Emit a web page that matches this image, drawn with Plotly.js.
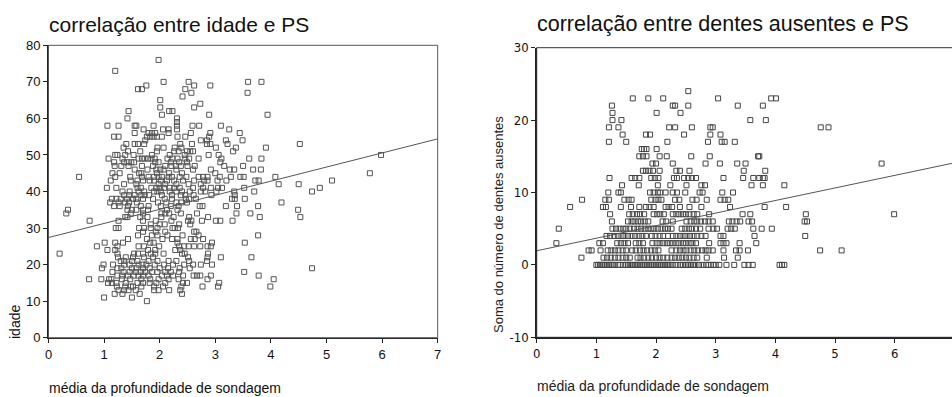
<!DOCTYPE html>
<html><head><meta charset="utf-8">
<script src="https://cdn.plot.ly/plotly-3.0.1.min.js"></script>
<style>html,body{margin:0;padding:0;overflow:hidden;background:#fff;width:952px;height:397px}#c{width:960px;height:397px}</style>
</head><body><div id="c"></div>
<script>
// Left chart: age (idade) rows -> probing depth values
const idadeRows = [
[76,[1.98]],[73,[1.20]],[70,[2.07,2.52,3.59,3.83]],[69,[1.76,2.62,2.91]],[68,[1.61,1.68,2.46]],
[67,[2.57,3.58]],[66,[2.41]],[65,[2.01]],[64,[2.73]],[63,[2.01,2.62]],[62,[1.44,2.17,2.23]],
[61,[2.04,2.89,3.94]],[60,[1.42,2.31]],[59,[2.31]],
[58,[1.06,1.26,1.55,1.58,1.89,2.31,2.59,2.71,3.10]],
[57,[1.71,2.06,2.16,2.31,3.25]],
[56,[1.55,1.80,1.86,1.92,2.16,2.56,2.91,3.44]],
[55,[1.18,1.26,1.77,1.83,1.89,1.95,2.04,2.32,2.46,2.89]],
[54,[1.74,2.74,2.85,3.19,3.49]],
[53,[1.40,1.55,1.61,1.72,2.37,2.58,2.85,2.91,3.22,4.52]],
[52,[1.35,1.96,2.07,2.27,2.39,3.01,3.37,3.91]],
[51,[1.43,1.65,1.95,2.26,2.34,2.49,2.55,2.60,3.32]],
[50,[1.20,1.24,1.38,1.53,1.86,2.18,2.45,2.88,3.06,5.98]],
[49,[1.08,1.33,1.62,1.68,1.73,1.79,1.85,1.91,2.14,2.23,2.32,2.46,2.53,2.70,3.11,3.61,3.83]],
[48,[1.18,1.36,1.42,1.49,1.54,1.92,1.98,2.20,2.35,2.49,3.09]],
[47,[1.19,1.31,1.44,1.68,1.88,2.10,2.21,2.29,2.38,2.50,2.63,3.16,3.50]],
[46,[1.55,1.78,1.94,2.01,2.07,2.30,2.60,2.92,3.26,3.34,3.68,3.82]],
[45,[1.15,1.28,1.63,1.67,1.95,2.17,2.40,3.00,5.78]],
[44,[0.55,1.20,1.47,1.68,1.80,1.90,1.98,2.04,2.16,2.22,2.36,2.48,2.70,2.78,2.86,3.08,3.28,3.45,3.51,4.08]],
[43,[1.12,1.48,1.60,1.70,1.82,1.90,2.02,2.13,2.26,2.42,2.62,2.80,2.86,3.04,3.20,3.72,3.78,5.10]],
[42,[1.36,1.58,1.98,2.10,2.30,2.52,2.74,4.14,4.50]],
[41,[1.05,1.22,1.60,1.66,1.85,1.94,2.00,2.08,2.18,2.26,2.36,2.60,2.78,2.92,3.05,3.12,3.52,4.88]],
[40,[1.33,1.46,1.62,1.72,1.90,1.96,2.02,2.18,2.30,2.40,2.54,2.74,2.82,3.02,3.34,3.70,4.74]],
[39,[1.36,1.45,1.55,1.67,1.73,1.81,2.04,2.22,2.38,2.46,2.61,2.93,3.35]],
[38,[1.14,1.22,1.30,1.41,1.52,1.58,1.70,1.88,2.09,2.22,2.47,2.53,2.65,3.30,3.35,3.53]],
[37,[1.11,1.26,1.38,1.45,1.59,1.97,2.12,2.30,2.39,2.49,4.19]],
[36,[1.18,1.28,1.43,1.66,1.80,2.02,2.20,2.34,2.72,2.77,3.19,3.39,3.77]],
[35,[0.35,1.42,1.50,1.58,1.70,1.79,2.13,2.32,4.49]],
[34,[0.32,1.48,1.70,2.03,2.10,2.17,2.38,2.67,3.38,3.63]],
[33,[1.38,1.42,1.65,1.78,2.03,2.25,2.53,2.87,3.80,4.53]],
[32,[0.74,1.26,1.70,1.93,2.21,2.51,2.57,2.76,3.01,3.09,3.31]],
[31,[1.84,2.00,2.09,2.35,2.55]],
[30,[1.21,1.26,1.63,1.72,1.84,1.96,2.23,2.27,2.33]],
[29,[1.70,1.93,2.10,2.62,2.66]],
[28,[1.61,1.86,1.96,2.14,2.41,2.70,3.77]],
[27,[1.43,1.77,2.05,2.22,2.32,2.56,2.63,2.78]],
[26,[1.01,1.20,1.34,1.83,1.89,2.32,2.94,3.53]],
[25,[0.87,1.24,1.62,1.72,1.99,2.35,2.44,2.52,2.62,2.73,2.86,2.92]],
[24,[1.06,1.20,1.79,1.92,2.28,2.37]],
[23,[0.20,1.24,1.54,1.61,1.70,1.84,1.92,2.07,2.40,2.45,2.87]],
[22,[1.25,1.39,1.52,1.72,1.88,2.51,2.86,3.10,3.65]],
[21,[1.30,1.36,1.50,1.60,1.80,1.96,2.16,2.30,2.53,2.85]],
[20,[0.99,1.16,1.36,1.46,1.62,1.69,1.76,1.91,2.08,2.24,2.44,2.60,2.74,2.94]],
[19,[0.96,1.24,1.31,1.50,1.58,1.70,1.82,2.00,2.15,2.36,2.54,4.74]],
[18,[1.15,1.35,1.46,1.57,1.66,1.74,1.86,1.96,2.10,2.20,2.35,3.52]],
[17,[1.24,1.32,1.43,1.53,1.62,1.70,1.80,2.04,2.13,2.24,2.42,2.61,2.67,2.73,2.92,3.78]],
[16,[0.73,0.95,1.09,1.13,1.32,1.47,1.67,1.83,1.98,2.16,2.34,2.86,4.05]],
[15,[1.07,1.14,1.22,1.39,1.60,1.70,1.82,1.94,2.10,2.42,2.49,3.07]],
[14,[1.23,1.38,1.48,1.52,1.67,1.90,2.06,2.39,2.77,3.05,3.99]],
[13,[1.26,1.36,1.44,1.57,1.90,1.98,2.17,2.37]],
[12,[1.19,1.33,1.64,2.40]],
[11,[1.00,1.50]],
[10,[1.77]]
];
// Right chart: missing teeth rows -> probing depth values
const dentesRows = [
[24,[2.54]],
[23,[1.61,1.87,2.12,3.04,3.93,4.01]],
[22,[1.26,2.28,2.32,2.54,3.37,3.79]],
[21,[1.27,2.01,2.41]],
[20,[1.27,1.42,3.58,3.84]],
[19,[1.21,1.37,2.22,2.32,2.60,2.91,2.95,4.76,4.89]],
[18,[1.44,1.83,1.90,2.47,2.91,3.08]],
[17,[1.21,1.50,2.19,2.87,3.10,3.15,3.32]],
[16,[1.76,1.80,1.84,2.01]],
[15,[1.72,1.78,1.84,2.06,2.18,2.59,2.90,3.71,3.73]],
[14,[1.94,2.00,2.28,2.83,3.07,3.36,3.50,5.78]],
[13,[1.78,1.83,1.89,1.95,2.06,2.34,2.40,2.56,3.47,3.83]],
[12,[1.22,1.59,1.65,1.72,1.92,1.98,2.04,2.30,2.35,2.47,2.54,2.60,2.67,3.13,3.46,3.63,3.73,3.79,3.82]],
[11,[1.43,1.71,2.03,2.24,2.51,2.76,2.82,3.60,3.79,4.15]],
[10,[1.20,1.37,1.41,1.90,1.96,2.03,2.07,2.16,2.28,2.35,2.49,2.73,2.78,3.11,3.29]],
[9,[0.76,1.15,1.21,1.47,1.54,1.59,1.92,1.99,2.04,2.09,2.32,2.39,2.61,2.68,2.85,3.08,3.15,3.21]],
[8,[0.56,1.11,1.16,1.41,1.58,1.72,1.83,1.89,1.96,2.16,2.21,2.27,2.40,2.56,2.76,3.24,3.82,4.18]],
[7,[1.23,1.55,1.61,1.68,1.73,1.80,1.96,2.02,2.07,2.13,2.28,2.34,2.39,2.45,2.50,2.56,2.63,2.69,2.89,3.45,3.58,4.51,5.99]],
[6,[1.26,1.53,1.59,1.64,1.70,1.75,1.81,1.87,2.11,2.17,2.28,2.51,2.58,2.64,2.69,2.75,2.82,2.88,2.95,3.22,3.28,3.35,3.41,3.55,3.61,4.49,4.53]],
[5,[0.37,1.27,1.33,1.39,1.45,1.50,1.56,1.63,1.69,1.75,1.81,1.87,1.92,1.97,2.03,2.09,2.15,2.20,2.26,2.43,2.49,2.55,2.60,2.67,2.74,2.88,2.96,3.02,3.20,3.26,3.32,3.63,3.77,3.94]],
[4,[1.17,1.23,1.30,1.36,1.42,1.47,1.53,1.59,1.65,1.71,1.77,1.83,1.93,1.99,2.06,2.12,2.20,2.28,2.34,2.40,2.46,2.51,2.57,2.63,2.69,2.76,2.83,3.08,3.13,3.65,4.50]],
[3,[0.33,1.05,1.11,1.35,1.41,1.47,1.53,1.66,1.72,1.78,1.94,2.01,2.06,2.12,2.18,2.23,2.28,2.34,2.39,2.45,2.50,2.56,2.61,2.67,2.89,3.08,3.13,3.18,3.40,3.68]],
[2,[0.87,0.92,1.07,1.19,1.25,1.31,1.37,1.44,1.50,1.60,1.66,1.73,1.79,1.85,1.92,1.98,2.04,2.26,2.34,2.40,2.46,2.51,2.58,2.64,2.70,2.77,2.83,2.88,2.95,3.13,3.34,3.40,3.54,4.75,5.11]],
[1,[0.75,1.12,1.18,1.24,1.31,1.37,1.44,1.50,1.56,1.69,1.74,1.80,1.87,1.93,2.00,2.06,2.12,2.19,2.26,2.32,2.38,2.44,2.50,2.56,2.63,2.69,2.85,3.14,3.37]],
[0,[1.00,1.03,1.06,1.09,1.12,1.15,1.18,1.21,1.24,1.27,1.30,1.36,1.40,1.45,1.50,1.53,1.56,1.60,1.64,1.67,1.70,1.73,1.76,1.79,1.82,1.85,1.88,1.91,1.94,1.97,2.00,2.03,2.06,2.09,2.12,2.15,2.18,2.21,2.24,2.28,2.34,2.40,2.45,2.50,2.53,2.56,2.59,2.62,2.66,2.72,2.78,2.84,2.88,2.92,2.96,3.00,3.06,3.18,3.31,3.48,3.55,3.62,4.07,4.11,4.15]]
];
const fitLeftX = [0, 7], fitLeftY = [27.4, 54.4];
const fitRightX = [0, 7], fitRightY = [1.95, 14.1];
const xTicksLeft = [0,1,2,3,4,5,6,7];
const xTicksRight = [0,1,2,3,4,5,6];
const idadeTicks = [0,10,20,30,40,50,60,70,80];
const dentesTicks = [-10,0,10,20,30];
const dentesTickText = ['-10','0','10','20','30'];
const titleLeft = 'correlação entre idade e PS';
const titleRight = 'correlação entre dentes ausentes e PS';
const xTitle = 'média da profundidade de sondagem';
const yTitleLeft = 'idade';
const yTitleRight = 'Soma do número de dentes ausentes';

function flat(rows){const xs=[],ys=[];rows.forEach(r=>r[1].forEach(v=>{xs.push(v);ys.push(r[0]);}));return {xs,ys};}
const L = flat(idadeRows), R = flat(dentesRows);

const W = 960, H = 397;
const px = v => v / W, py = v => 1 - v / H;
const sans = 'Liberation Sans, Arial, sans-serif';
const narrow = 'Liberation Sans Narrow, DejaVu Sans Condensed, Liberation Sans, sans-serif';

const traces = [
 {x:L.xs,y:L.ys,type:'scatter',mode:'markers',xaxis:'x',yaxis:'y',
  marker:{symbol:'square-open',size:5,color:'#555',line:{width:1,color:'#555'}},hoverinfo:'skip'},
 {x:fitLeftX,y:fitLeftY,type:'scatter',mode:'lines',xaxis:'x',yaxis:'y',line:{color:'#555',width:1}},
 {x:R.xs,y:R.ys,type:'scatter',mode:'markers',xaxis:'x2',yaxis:'y2',
  marker:{symbol:'square-open',size:5,color:'#444',line:{width:1,color:'#444'}},hoverinfo:'skip'},
 {x:fitRightX,y:fitRightY,type:'scatter',mode:'lines',xaxis:'x2',yaxis:'y2',line:{color:'#555',width:1}}
];

const axBase = {showgrid:false,zeroline:false,showline:true,linecolor:'#222',linewidth:1.5,
  ticks:'outside',ticklen:4,tickwidth:1,tickcolor:'#222',tickmode:'array'};

const layout = {
 width:W,height:H,margin:{l:0,r:0,t:0,b:0},paper_bgcolor:'#fff',plot_bgcolor:'#fff',showlegend:false,
 xaxis:Object.assign({},axBase,{domain:[px(48.5),px(437.7)],range:[0,7],tickvals:xTicksLeft,anchor:'y',
   tickfont:{family:sans,size:13,color:'#111'}}),
 yaxis:Object.assign({},axBase,{domain:[py(337.7),py(45.3)],range:[0,80],tickvals:idadeTicks,anchor:'x',
   tickfont:{family:sans,size:13,color:'#111'}}),
 xaxis2:Object.assign({},axBase,{domain:[px(536.7),px(954.4)],range:[0,7],tickvals:xTicksRight,anchor:'y2',
   tickfont:{family:narrow,size:13,color:'#111'}}),
 yaxis2:Object.assign({},axBase,{domain:[py(337.3),py(47.7)],range:[-10,30],tickvals:dentesTicks,ticktext:dentesTickText,anchor:'x2',
   tickfont:{family:narrow,size:13,color:'#111'}}),
 shapes:[
  {type:'rect',xref:'x domain',yref:'y domain',x0:0,x1:1,y0:0,y1:1,line:{color:'#555',width:1}},
  {type:'rect',xref:'x2 domain',yref:'y2 domain',x0:0,x1:1,y0:0,y1:1,line:{color:'#333',width:1}}
 ],
 annotations:[
  {text:titleLeft,xref:'paper',yref:'paper',x:px(47),y:py(24),xanchor:'left',yanchor:'middle',showarrow:false,
   font:{family:sans,size:21,color:'#111'}},
  {text:titleRight,xref:'paper',yref:'paper',x:px(535),y:py(24),xanchor:'left',yanchor:'middle',showarrow:false,
   font:{family:sans,size:21.5,color:'#111'}},
  {text:xTitle,xref:'paper',yref:'paper',x:px(47),y:py(388),xanchor:'left',yanchor:'middle',showarrow:false,
   font:{family:sans,size:14,color:'#111'}},
  {text:xTitle,xref:'paper',yref:'paper',x:px(535),y:py(386),xanchor:'left',yanchor:'middle',showarrow:false,
   font:{family:sans,size:14,color:'#222'}},
  {text:yTitleLeft,xref:'paper',yref:'paper',x:px(15),y:py(322),xanchor:'center',yanchor:'middle',textangle:-90,showarrow:false,
   font:{family:sans,size:14,color:'#111'}},
  {text:yTitleRight,xref:'paper',yref:'paper',x:px(498),y:py(225),xanchor:'center',yanchor:'middle',textangle:-90,showarrow:false,
   font:{family:sans,size:13,color:'#222'}}
 ]
};
Plotly.newPlot('c',traces,layout,{staticPlot:true,displayModeBar:false});
</script>
</body></html>
